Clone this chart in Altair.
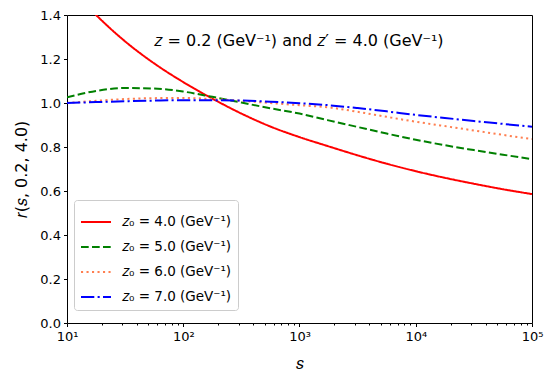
import altair as alt
import pandas as pd

log_s = [1.0, 1.25, 1.5, 1.75, 2.0, 2.25, 2.5, 2.75, 3.0, 3.25, 3.5, 3.75, 4.0, 4.25, 4.5, 4.75, 5.0]
r_z4 = [1.54, 1.40, 1.28, 1.18, 1.095, 1.02, 0.952, 0.893, 0.845, 0.803, 0.762, 0.724, 0.69, 0.66, 0.633, 0.608, 0.586]
r_z5 = [1.026, 1.055, 1.068, 1.066, 1.052, 1.028, 1.002, 0.976, 0.952, 0.921, 0.891, 0.861, 0.833, 0.808, 0.786, 0.765, 0.745]
r_z6 = [1.0, 1.01, 1.018, 1.022, 1.023, 1.018, 1.01, 1.0, 0.99, 0.98, 0.96, 0.937, 0.915, 0.895, 0.875, 0.855, 0.836]
r_z7 = [1.0, 1.004, 1.008, 1.011, 1.013, 1.013, 1.011, 1.006, 0.999, 0.99, 0.977, 0.962, 0.946, 0.932, 0.918, 0.905, 0.892]

labels = ["𝑧₀ = 4.0 (GeV⁻¹)", "𝑧₀ = 5.0 (GeV⁻¹)", "𝑧₀ = 6.0 (GeV⁻¹)", "𝑧₀ = 7.0 (GeV⁻¹)"]
colors = ["red", "green", "coral", "blue"]
dashes = [[1, 0], [7.7, 3.3], [2.1, 3.4], [13.3, 3.3, 2.1, 3.3]]
series = [r_z4, r_z5, r_z6, r_z7]

major_ticks = [10, 100, 1000, 10000, 100000]
minor_ticks = [m * 10 ** e for e in range(1, 5) for m in range(2, 10)]
y_ticks = [0.0, 0.2, 0.4, 0.6, 0.8, 1.0, 1.2, 1.4]

title_text = "𝑧 = 0.2 (GeV⁻¹) and 𝑧′ = 4.0 (GeV⁻¹)"

rows = []
for lab, vals in zip(labels, series):
    for ls, v in zip(log_s, vals):
        rows.append({"s": 10 ** ls, "r": v, "label": lab})
df = pd.DataFrame(rows)

font = "DejaVu Sans"
xscale = alt.Scale(type="log", domain=[10, 100000], nice=False)
yscale = alt.Scale(domain=[0, 1.4], nice=False)

label_expr = ("datum.value == 10 ? '10¹' : datum.value == 100 ? '10²' : "
              "datum.value == 1000 ? '10³' : datum.value == 10000 ? '10⁴' : '10⁵'")

legend = alt.Legend(
    title=None, orient="none", legendX=7, legendY=185,
    symbolType="stroke", symbolSize=900, symbolStrokeWidth=2,
    labelFont=font, labelFontSize=13.5, labelColor="black",
    fillColor="white", strokeColor="#cccccc", cornerRadius=3,
    padding=6, rowPadding=2, labelOffset=10,
)

lines = alt.Chart(df).mark_line(clip=True, strokeWidth=2, interpolate="monotone").encode(
    x=alt.X("s:Q", scale=xscale, axis=alt.Axis(
        values=major_ticks, labelExpr=label_expr, title="𝑠", orient="bottom",
        tickSize=3.5, tickColor="black", domain=False, grid=False,
        labelFont=font, labelFontSize=13, labelColor="black", labelPadding=4,
        titleFont=font, titleFontSize=16, titleFontWeight="normal", titleColor="black",
        titlePadding=12, labelFlush=False)),
    y=alt.Y("r:Q", scale=yscale, axis=alt.Axis(
        values=y_ticks, format=".1f", title="𝑟(𝑠, 0.2, 4.0)",
        tickSize=3.5, tickColor="black", domain=False, grid=False,
        labelFont=font, labelFontSize=13, labelColor="black", labelPadding=3,
        titleFont=font, titleFontSize=16, titleFontWeight="normal", titleColor="black",
        titlePadding=10)),
    color=alt.Color("label:N", scale=alt.Scale(domain=labels, range=colors), legend=legend),
    strokeDash=alt.StrokeDash("label:N", scale=alt.Scale(domain=labels, range=dashes), legend=legend),
)

minor = alt.Chart(df).mark_point(opacity=0).encode(
    x=alt.X("s:Q", scale=xscale, axis=alt.Axis(
        values=minor_ticks, labels=False, title=None, orient="bottom",
        tickSize=2, tickColor="black", domain=False, grid=False)),
)

txt = alt.Chart(pd.DataFrame({"t": [title_text]})).mark_text(
    font=font, fontSize=16, color="black", align="center", baseline="middle"
).encode(text="t:N", x=alt.value(232), y=alt.value(26))

chart = alt.layer(lines, minor, txt).resolve_axis(x="independent").properties(
    width=465, height=308,
    autosize=alt.AutoSizeParams(type="none"),
    padding={"left": 59, "top": 7, "right": 14, "bottom": 50},
).configure_view(stroke="black", strokeWidth=1)

chart.save("out.html", embed_options={"renderer": "svg", "actions": False})
